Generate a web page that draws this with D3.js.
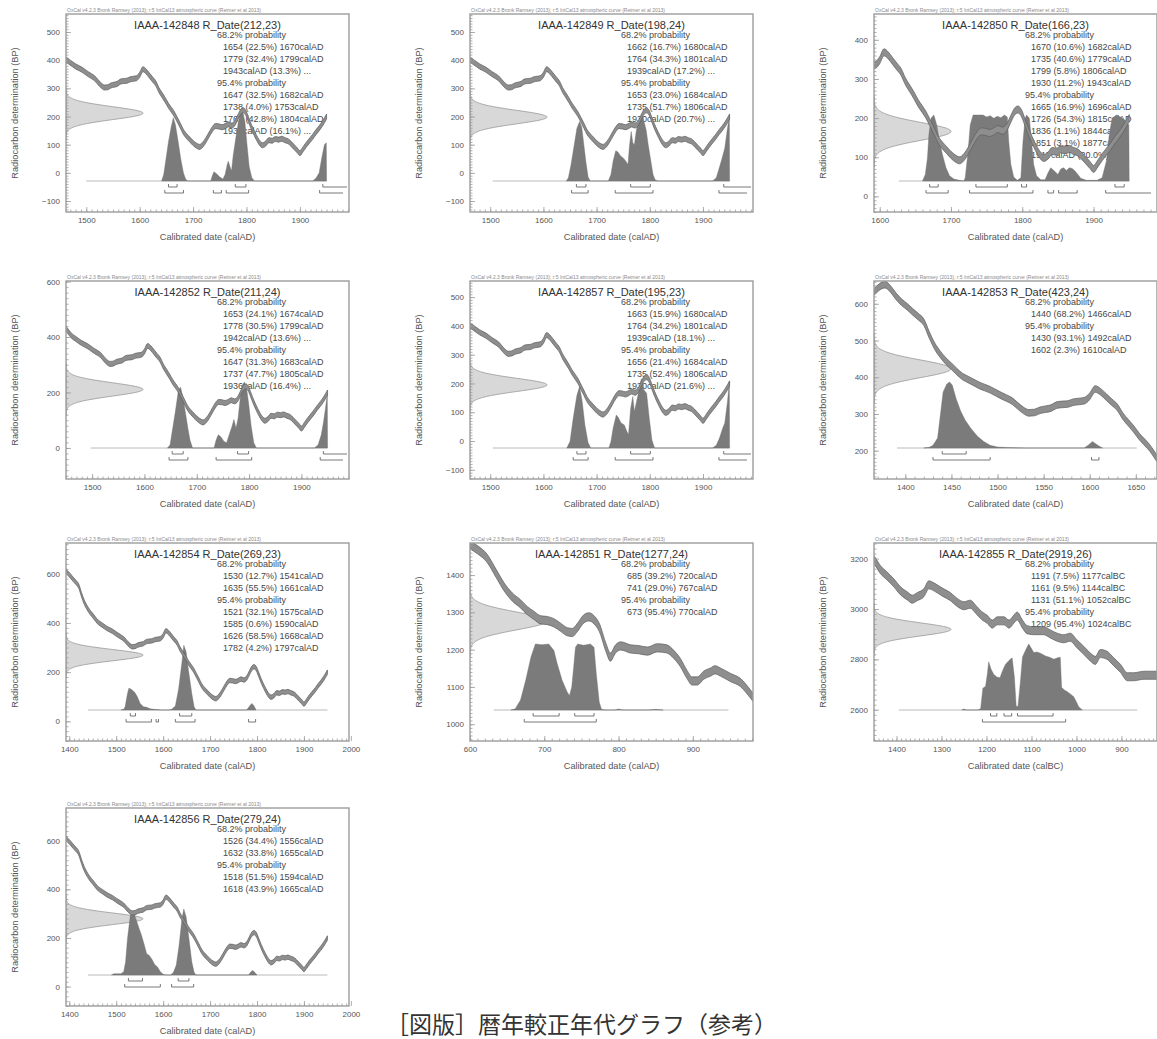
<!DOCTYPE html>
<html><head><meta charset="utf-8">
<script src="https://cdn.jsdelivr.net/npm/d3@7"></script>
<style>
html,body{margin:0;padding:0;background:#fff;}
svg{display:block;}
</style></head><body>
<svg id="chart" width="1157" height="1039"></svg>
<script>
// ---------------- DATA ----------------
const sampleIds = ["IAAA-142848","IAAA-142849","IAAA-142850","IAAA-142852","IAAA-142857","IAAA-142853","IAAA-142854","IAAA-142851","IAAA-142855","IAAA-142856"];
const rMeans  = [212,198,166,211,195,423,269,1277,2919,279];
const rErrors = [23,24,23,24,23,24,23,24,26,24];
const dateUnits = ["calAD","calAD","calAD","calAD","calAD","calAD","calAD","calAD","calBC","calAD"];
const curveKeys = ["AD","AD","AD","AD","AD","AD","AD","EM","BC","AD"];

const xDomains = [[1462,1992],[1462,1994],[1592,1989],[1450,1991],[1462,1994],[1366,1673],[1393,1996],[600,981],[-1450,-821],[1393,1996]];
const yDomains = [[-139,564],[-139,564],[-40,466],[-112,602],[-132,556],[123,662],[-80,725],[955,1486],[2476,3262],[-80,735]];
const xTicks = [
  [1500,1600,1700,1800,1900],[1500,1600,1700,1800,1900],[1600,1700,1800,1900],
  [1500,1600,1700,1800,1900],[1500,1600,1700,1800,1900],[1400,1450,1500,1550,1600,1650],
  [1400,1500,1600,1700,1800,1900,2000],[600,700,800,900],[-1400,-1300,-1200,-1100,-1000,-900],
  [1400,1500,1600,1700,1800,1900,2000]];
const yTicks = [
  [-100,0,100,200,300,400,500],[-100,0,100,200,300,400,500],[0,100,200,300,400],
  [0,200,400,600],[-100,0,100,200,300,400,500],[200,300,400,500,600],
  [0,200,400,600],[1000,1100,1200,1300,1400],[2600,2800,3000,3200],[0,200,400,600]];

// IntCal13 curve (year, BP)
const intcalAD = [[1366,632],[1372,646],[1378,652],[1384,640],[1390,620],[1396,604],[1402,592],[1408,578],[1414,565],[1420,550],[1426,515],[1432,484],[1438,462],[1444,444],[1450,430],[1456,415],[1462,402],[1468,394],[1474,386],[1480,378],[1486,372],[1492,366],[1498,358],[1504,350],[1510,343],[1516,335],[1522,322],[1528,310],[1534,303],[1540,304],[1546,310],[1552,313],[1558,316],[1564,324],[1570,326],[1576,327],[1582,332],[1588,334],[1594,336],[1600,348],[1606,368],[1612,360],[1618,346],[1624,332],[1630,318],[1636,294],[1642,276],[1648,258],[1654,238],[1660,222],[1665,208],[1670,190],[1676,168],[1682,145],[1688,130],[1694,118],[1700,106],[1706,97],[1712,92],[1718,100],[1724,116],[1730,136],[1736,155],[1742,166],[1748,165],[1754,162],[1760,166],[1766,172],[1772,168],[1778,176],[1784,198],[1789,216],[1794,222],[1799,212],[1804,188],[1809,164],[1814,143],[1819,124],[1824,108],[1830,98],[1836,104],[1842,116],[1848,114],[1854,120],[1860,118],[1866,121],[1872,116],[1878,112],[1884,102],[1890,90],[1895,80],[1900,70],[1906,84],[1912,100],[1918,114],[1924,128],[1930,144],[1936,158],[1942,174],[1950,200]];
const intcalEM = [[600,1481],[610,1468],[623,1445],[635,1405],[646,1368],[657,1341],[668,1323],[677,1305],[686,1292],[695,1280],[704,1278],[713,1272],[722,1260],[731,1248],[738,1246],[744,1258],[753,1282],[760,1288],[767,1280],[774,1260],[783,1206],[789,1180],[796,1202],[803,1210],[816,1202],[827,1200],[839,1196],[852,1205],[865,1202],[874,1188],[883,1166],[892,1134],[899,1116],[906,1116],[915,1132],[924,1140],[930,1146],[937,1140],[951,1125],[964,1112],[978,1080],[985,1062]];
const intcalBC = [[-1455,3200],[-1450,3194],[-1436,3157],[-1421,3131],[-1406,3104],[-1391,3072],[-1376,3052],[-1365,3039],[-1354,3049],[-1339,3065],[-1328,3096],[-1317,3088],[-1299,3068],[-1280,3049],[-1265,3026],[-1250,3013],[-1236,3019],[-1224,2999],[-1210,2973],[-1199,2960],[-1187,2940],[-1176,2953],[-1161,2953],[-1150,2940],[-1139,2960],[-1132,2972],[-1120,2940],[-1110,2918],[-1095,2914],[-1073,2914],[-1058,2901],[-1043,2888],[-1028,2882],[-1014,2888],[-999,2862],[-984,2836],[-969,2809],[-958,2796],[-947,2823],[-932,2816],[-917,2790],[-902,2764],[-887,2731],[-873,2731],[-850,2737],[-815,2737]];
const curveSigmas = [9, 11, 16]; // AD, early medieval, BC

// posterior (calibrated) distributions: [year, relative probability]
const post142848 = [[1641,0],[1645,0.1],[1649,0.32],[1654,0.6],[1659,0.82],[1663,0.96],[1667,0.85],[1672,0.6],[1677,0.33],[1682,0.12],[1686,0.03],[1690,0],[1733,0],[1736,0.08],[1739,0.14],[1744,0.11],[1750,0.06],[1756,0.03],[1760,0.1],[1764,0.25],[1766,0.3],[1769,0.22],[1772,0.15],[1775,0.38],[1780,0.65],[1785,0.9],[1789,1.03],[1793,1.05],[1797,0.9],[1801,0.55],[1805,0.22],[1810,0.05],[1815,0],[1924,0],[1930,0.04],[1936,0.12],[1941,0.35],[1946,0.55],[1949.5,0.58],[1950,0]];
const post142849 = [[1643,0],[1647,0.05],[1652,0.25],[1658,0.55],[1663,0.8],[1668,0.9],[1672,0.82],[1676,0.55],[1680,0.28],[1684,0.06],[1688,0],[1722,0],[1727,0.1],[1731,0.3],[1736,0.46],[1740,0.44],[1745,0.38],[1750,0.35],[1755,0.3],[1759,0.25],[1762,0.55],[1765,0.75],[1768,0.58],[1771,0.55],[1775,0.78],[1780,0.92],[1785,1.02],[1789,0.9],[1793,0.78],[1797,0.55],[1802,0.3],[1806,0.1],[1810,0.02],[1815,0],[1918,0],[1925,0.05],[1930,0.18],[1936,0.35],[1941,0.5],[1946,0.8],[1949.5,0.98],[1950,0]];
const post142850 = [[1660,0],[1664,0.1],[1667,0.35],[1669,0.7],[1672,0.95],[1676,1.0],[1680,0.85],[1684,0.6],[1688,0.4],[1693,0.2],[1698,0.08],[1704,0.03],[1712,0.01],[1718,0],[1720,0.05],[1724,0.45],[1727,0.85],[1731,1.0],[1745,1.0],[1750,0.97],[1755,0.99],[1760,0.95],[1765,0.98],[1770,0.96],[1775,1.0],[1779,0.97],[1781,0.6],[1784,0.25],[1788,0.06],[1793,0.01],[1798,0.05],[1801,0.6],[1804,0.95],[1806,1.0],[1810,0.95],[1813,0.6],[1816,0.25],[1820,0.08],[1826,0.02],[1832,0.02],[1836,0.12],[1840,0.2],[1845,0.15],[1850,0.1],[1854,0.18],[1858,0.2],[1862,0.16],[1866,0.2],[1870,0.19],[1874,0.15],[1878,0.1],[1882,0.04],[1890,0.01],[1905,0.01],[1912,0.05],[1918,0.3],[1922,0.7],[1926,0.95],[1932,1.0],[1938,0.97],[1944,0.92],[1949.5,0.85],[1950,0]];
const post142852 = [[1644,0],[1649,0.05],[1654,0.3],[1659,0.55],[1665,0.88],[1669,0.92],[1674,0.75],[1678,0.55],[1683,0.3],[1687,0.12],[1692,0],[1733,0],[1737,0.12],[1741,0.2],[1746,0.17],[1752,0.1],[1757,0.08],[1762,0.2],[1767,0.32],[1771,0.43],[1775,0.3],[1779,0.45],[1783,0.75],[1787,0.95],[1791,1.0],[1795,0.92],[1799,0.68],[1804,0.33],[1809,0.08],[1814,0],[1925,0],[1932,0.05],[1938,0.2],[1942,0.38],[1946,0.6],[1949.5,0.82],[1950,0]];
const post142857 = [[1644,0],[1650,0.1],[1656,0.45],[1663,0.8],[1668,0.93],[1673,0.7],[1678,0.35],[1684,0.08],[1689,0],[1723,0],[1727,0.1],[1731,0.3],[1737,0.5],[1741,0.46],[1746,0.38],[1752,0.35],[1757,0.25],[1760,0.2],[1764,0.6],[1768,0.78],[1771,0.55],[1775,0.7],[1779,0.85],[1784,1.05],[1789,0.88],[1794,0.83],[1799,0.45],[1804,0.12],[1809,0],[1918,0],[1925,0.04],[1931,0.15],[1937,0.3],[1941,0.38],[1946,0.7],[1949.5,1.0],[1950,0]];
const post142853 = [[1420,0],[1426,0.01],[1430,0.04],[1435,0.15],[1438,0.5],[1441,0.85],[1445,0.97],[1448,1.0],[1451,0.95],[1455,0.75],[1460,0.56],[1465,0.42],[1471,0.3],[1478,0.18],[1485,0.1],[1492,0.04],[1500,0.015],[1510,0.008],[1520,0.003],[1530,0],[1594,0],[1599,0.05],[1603,0.1],[1606,0.07],[1610,0.03],[1614,0]];
const post142854 = [[1510,0],[1516,0.01],[1519,0.05],[1524,0.25],[1527,0.33],[1531,0.32],[1536,0.29],[1540,0.26],[1545,0.2],[1551,0.1],[1558,0.05],[1565,0.04],[1572,0.02],[1580,0.01],[1587,0.006],[1594,0],[1612,0],[1618,0.01],[1626,0.06],[1633,0.32],[1640,0.72],[1644,0.98],[1649,0.88],[1654,0.6],[1661,0.25],[1666,0.05],[1670,0],[1778,0],[1785,0.07],[1789,0.1],[1793,0.07],[1798,0]];
const post142851 = [[655,0],[661,0.02],[668,0.15],[675,0.45],[682,0.8],[688,1.0],[697,0.99],[706,1.0],[713,0.9],[717,0.72],[724,0.45],[731,0.27],[734,0.22],[737,0.35],[740,0.7],[742,0.95],[745,1.0],[753,0.98],[762,1.0],[767,0.95],[770,0.55],[774,0.12],[777,0.01],[782,0],[795,0],[800,0.015],[806,0],[840,0],[850,0.01],[860,0]];
const post142855 = [[-1255,0],[-1250,0.015],[-1245,0],[-1220,0],[-1213,0.02],[-1208,0.33],[-1202,0.36],[-1198,0.55],[-1195,0.73],[-1190,0.62],[-1184,0.54],[-1177,0.5],[-1170,0.49],[-1164,0.6],[-1158,0.69],[-1150,0.75],[-1143,0.79],[-1138,0.5],[-1134,0.06],[-1130,0.05],[-1125,0.4],[-1120,0.8],[-1117,0.85],[-1110,0.95],[-1106,1.0],[-1100,0.93],[-1095,0.87],[-1088,0.88],[-1080,0.86],[-1069,0.82],[-1060,0.8],[-1050,0.77],[-1042,0.79],[-1036,0.8],[-1033,0.34],[-1026,0.3],[-1021,0.28],[-1013,0.24],[-1006,0.2],[-1000,0.12],[-995,0.05],[-987,0]];
const post142856 = [[1490,0],[1495,0.02],[1510,0.02],[1516,0.05],[1520,0.2],[1524,0.55],[1530,0.9],[1536,0.97],[1542,0.85],[1548,0.72],[1554,0.6],[1560,0.45],[1565,0.32],[1570,0.3],[1576,0.24],[1582,0.16],[1588,0.12],[1594,0.05],[1600,0.01],[1606,0],[1616,0],[1622,0.04],[1628,0.15],[1634,0.45],[1640,0.85],[1644,1.0],[1649,0.88],[1655,0.55],[1661,0.2],[1666,0.04],[1670,0],[1782,0],[1787,0.05],[1791,0.07],[1795,0.04],[1800,0]];
const posteriors = [post142848,post142849,post142850,post142852,post142857,post142853,post142854,post142851,post142855,post142856];
const posteriorSpans = [[1500,1950],[1505,1950],[1627,1950],[1497,1950],[1505,1950],[1391,1651],[1440,1950],[632,948],[-1395,-865],[1440,1950]];

// calibrated ranges: [from, to (null = open), percent]
const ranges68 = [
  [[1654,1670,22.5],[1779,1799,32.4],[1943,null,13.3]],
  [[1662,1680,16.7],[1764,1801,34.3],[1939,null,17.2]],
  [[1670,1682,10.6],[1735,1779,40.6],[1799,1806,5.8],[1930,1943,11.2]],
  [[1653,1674,24.1],[1778,1799,30.5],[1942,null,13.6]],
  [[1663,1680,15.9],[1764,1801,34.2],[1939,null,18.1]],
  [[1440,1466,68.2]],
  [[1530,1541,12.7],[1635,1661,55.5]],
  [[685,720,39.2],[741,767,29.0]],
  [[-1191,-1177,7.5],[-1161,-1144,9.5],[-1131,-1052,51.1]],
  [[1526,1556,34.4],[1632,1655,33.8]]];
const ranges95 = [
  [[1647,1682,32.5],[1738,1753,4.0],[1762,1804,42.8],[1937,null,16.1]],
  [[1653,1684,23.0],[1735,1806,51.7],[1930,null,20.7]],
  [[1665,1696,16.9],[1726,1815,54.3],[1836,1844,1.1],[1851,1877,3.1],[1917,null,20.0]],
  [[1647,1683,31.3],[1737,1805,47.7],[1936,null,16.4]],
  [[1656,1684,21.4],[1735,1806,52.4],[1930,null,21.6]],
  [[1430,1492,93.1],[1602,1610,2.3]],
  [[1521,1575,32.1],[1585,1590,0.6],[1626,1668,58.5],[1782,1797,4.2]],
  [[673,770,95.4]],
  [[-1209,-1024,95.4]],
  [[1518,1594,51.5],[1618,1665,43.9]]];

const headerText = "OxCal v4.2.3 Bronk Ramsey (2013); r:5 IntCal13 atmospheric curve (Reimer et al 2013)";
const yAxisTitle = "Radiocarbon determination (BP)";
const captionText = "［図版］暦年較正年代グラフ（参考）";

// ---------------- DRAWING ----------------
const svg = d3.select("#chart");
svg.append("rect").attr("width",1157).attr("height",1039).attr("fill","#fff");

const COL_LEFT = [66, 470, 874];
const ROW_TOP = [14, 281, 543, 808];
const W = 283, H = 198;
const FONT = "'Liberation Sans', Arial, Helvetica, sans-serif";
const curves = {AD: intcalAD, EM: intcalEM, BC: intcalBC};
const sigmas = {AD: curveSigmas[0], EM: curveSigmas[1], BC: curveSigmas[2]};

function fmtYear(v){ return String(Math.abs(v)); }
function fmtRange(r, unit){
  if (r[1] === null) return `${fmtYear(r[0])}${unit} (${r[2].toFixed(1)}%) ...`;
  return `${fmtYear(r[0])} (${r[2].toFixed(1)}%) ${fmtYear(r[1])}${unit}`;
}

sampleIds.forEach((id, i) => {
  const left = COL_LEFT[i % 3], top = ROW_TOP[Math.floor(i / 3)];
  const g = svg.append("g").attr("transform", `translate(${left},${top})`);
  const x = d3.scaleLinear().domain(xDomains[i]).range([0, W]);
  const y = d3.scaleLinear().domain(yDomains[i]).range([H, 0]);
  const unit = dateUnits[i];

  const clipId = "clip" + i;
  g.append("clipPath").attr("id", clipId).append("rect").attr("width", W).attr("height", H);

  // probability text (drawn below the distributions)
  const lines = [["68.2% probability", 151]]
    .concat(ranges68[i].map(r => [fmtRange(r, unit), 157]))
    .concat([["95.4% probability", 151]])
    .concat(ranges95[i].map(r => [fmtRange(r, unit), 157]));
  const tg = g.append("g").attr("font-family", FONT).attr("font-size", 9).attr("fill", "#474747");
  lines.forEach((l, k) => {
    tg.append("text").attr("x", l[1]).attr("y", 23.5 + k * 12).text(l[0]);
  });

  const plot = g.append("g").attr("clip-path", `url(#${clipId})`);

  // measured radiocarbon date (normal distribution on the y axis)
  const m = rMeans[i], s = rErrors[i];
  const gx = d3.scaleLinear().domain([0, 1]).range([0, 77]);
  const gpts = d3.range(-4, 4.0001, 0.05).map(z => [m + z * s, Math.exp(-0.5 * z * z)]);
  plot.append("path").datum(gpts)
    .attr("d", d3.area().y(d => y(d[0])).x0(0).x1(d => gx(d[1])))
    .attr("fill", "#d8d8d8").attr("stroke", "#8c8c8c").attr("stroke-width", 0.7);

  // posterior distribution
  const base = H - 31;
  const hScale = d3.scaleLinear().domain([0, 1]).range([base, base - 66]);
  const span = posteriorSpans[i];
  plot.append("line").attr("x1", x(span[0])).attr("x2", x(span[1]))
    .attr("y1", base).attr("y2", base).attr("stroke", "#a8a8a8").attr("stroke-width", 0.8);
  plot.append("path").datum(posteriors[i])
    .attr("d", d3.area().x(d => x(d[0])).y0(base).y1(d => hScale(d[1])))
    .attr("fill", "#7b7b7b").attr("stroke", "#6e6e6e").attr("stroke-width", 0.4);

  // calibration curve band
  const key = curveKeys[i], sg = sigmas[key];
  plot.append("path").datum(curves[key])
    .attr("d", d3.area().curve(d3.curveMonotoneX).x(d => x(d[0])).y0(d => y(d[1] - sg)).y1(d => y(d[1] + sg)))
    .attr("fill", "#8e8e8e").attr("stroke", "#5c5c5c").attr("stroke-width", 0.7);

  // range brackets
  const drawBrackets = (ranges, yy, openEnd) => {
    ranges.forEach(r => {
      const x1 = x(r[0]);
      const x2 = r[1] === null ? W - openEnd : x(r[1]);
      const path = r[1] === null
        ? `M${x1},${yy - 3}V${yy}H${x2}`
        : `M${x1},${yy - 3}V${yy}H${x2}V${yy - 3}`;
      g.append("path").attr("d", path).attr("fill", "none").attr("stroke", "#6a6a6a").attr("stroke-width", 0.9);
    });
  };
  drawBrackets(ranges68[i], base + 6, 2);
  drawBrackets(ranges95[i], base + 12, 6);

  // axes
  const xt = xTicks[i], yt = yTicks[i];
  const yStep = yt[1] - yt[0];
  const xMinor = d3.range(Math.ceil(xDomains[i][0] / 10) * 10, xDomains[i][1], 10);
  const yMinorStep = yStep >= 200 ? 20 : 10;
  const yMinor = d3.range(Math.ceil(yDomains[i][0] / yMinorStep) * yMinorStep, yDomains[i][1], yMinorStep);

  const styleAxis = a => {
    a.attr("font-family", FONT).attr("font-size", 8);
    a.select(".domain").remove();
    a.selectAll("line").attr("stroke", "#9a9a9a").attr("stroke-width", 0.8);
    a.selectAll("text").attr("fill", "#555");
  };
  g.append("g").attr("transform", `translate(0,${H})`)
    .call(d3.axisBottom(x).tickValues(xMinor).tickSize(-2.5).tickFormat("")).call(styleAxis);
  g.append("g").attr("transform", `translate(0,${H})`)
    .call(d3.axisBottom(x).tickValues(xt).tickSize(-5).tickPadding(5).tickFormat(fmtYear)).call(styleAxis);
  g.append("g")
    .call(d3.axisLeft(y).tickValues(yMinor).tickSize(-2.5).tickFormat("")).call(styleAxis);
  g.append("g")
    .call(d3.axisLeft(y).tickValues(yt).tickSize(-5).tickPadding(6).tickFormat(d3.format("d"))).call(styleAxis);

  // frame
  g.append("rect").attr("width", W).attr("height", H).attr("fill", "none")
    .attr("stroke", "#9c9c9c").attr("stroke-width", 1.4);

  // header / title
  g.append("text").attr("x", 1).attr("y", -1.6).attr("font-family", FONT).attr("font-size", 5)
    .attr("fill", "#8a8a8a").text(headerText);
  g.append("text").attr("x", W / 2).attr("y", 14.5).attr("text-anchor", "middle")
    .attr("font-family", FONT).attr("font-size", 11).attr("fill", "#333")
    .text(`${id} R_Date(${m},${s})`);

  // axis titles
  g.append("text").attr("x", W / 2).attr("y", H + 28).attr("text-anchor", "middle")
    .attr("font-family", FONT).attr("font-size", 9.2).attr("fill", "#555")
    .text(`Calibrated date (${unit})`);
  g.append("text").attr("transform", `translate(-48,${H / 2}) rotate(-90)`).attr("text-anchor", "middle")
    .attr("font-family", FONT).attr("font-size", 9.2).attr("fill", "#555")
    .text(yAxisTitle);
});

// caption
svg.append("text").attr("x", 386).attr("y", 1033)
  .attr("font-family", "'Noto Sans CJK JP', 'Noto Sans CJK SC', sans-serif")
  .attr("font-size", 23).attr("fill", "#333").text(captionText);
</script>
</body></html>
